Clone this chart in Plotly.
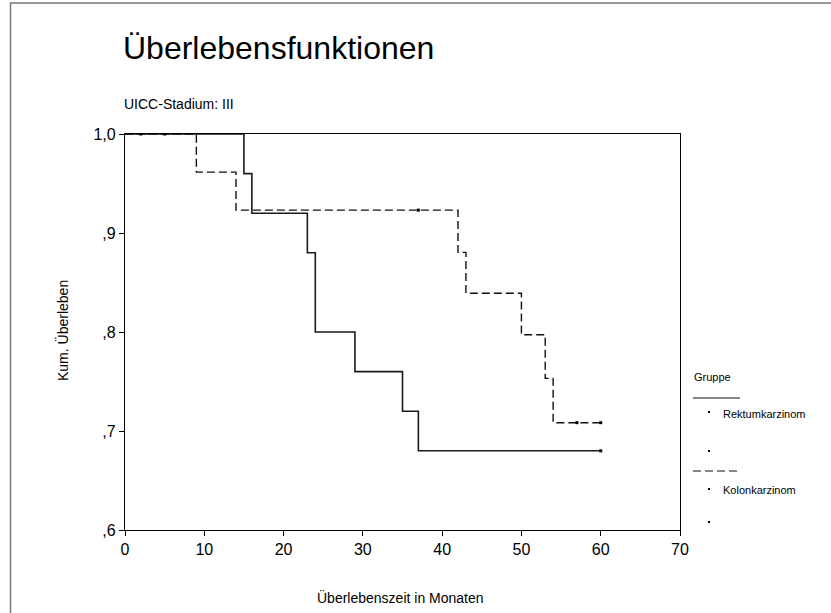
import plotly.graph_objects as go

# Kaplan-Meier data
rektum_t = [0, 15, 16, 23, 24, 29, 35, 37, 60]
rektum_s = [1.0, 0.96, 0.92, 0.88, 0.80, 0.76, 0.72, 0.68, 0.68]
rektum_cens_t = [60]
rektum_cens_s = [0.68]

kolon_t = [0, 9, 14, 42, 43, 50, 53, 54, 60]
kolon_s = [1.0, 0.9615, 0.9231, 0.8804, 0.8392, 0.7972, 0.7532, 0.7084, 0.7084]
kolon_cens_t = [2, 5, 37, 57, 60]
kolon_cens_s = [1.0, 1.0, 0.9231, 0.7084, 0.7084]

x_ticks = [0, 10, 20, 30, 40, 50, 60, 70]
y_ticks = [0.6, 0.7, 0.8, 0.9, 1.0]
y_ticktext = [",6", ",7", ",8", ",9", "1,0"]

FONT = "Liberation Sans, Arial, sans-serif"
W, H = 831, 613
L, R, T, B = 125, 151, 134, 83
PW, PH = W - L - R, H - T - B


def px(x):
    return (x - L) / PW


def py(y):
    return (H - B - y) / PH


fig = go.Figure()

fig.add_trace(go.Scatter(x=rektum_t, y=rektum_s, mode="lines", line_shape="hv",
                         line=dict(color="#1a1a1a", width=1.6), showlegend=False))
fig.add_trace(go.Scatter(x=kolon_t, y=kolon_s, mode="lines", line_shape="hv",
                         line=dict(color="#111", width=1.4, dash="8px,4px"), showlegend=False))
# censored marks
fig.add_trace(go.Scatter(x=rektum_cens_t, y=rektum_cens_s, mode="markers",
                         marker=dict(symbol="square", size=3, color="black"), showlegend=False))
fig.add_trace(go.Scatter(x=kolon_cens_t, y=kolon_cens_s, mode="markers",
                         marker=dict(symbol="square", size=3, color="black"), showlegend=False))

shapes = []
# outer frame (runs off the right and bottom of the picture)
shapes.append(dict(type="rect", xref="paper", yref="paper", x0=px(10.5), y0=-1, x1=2, y1=py(3),
                   line=dict(color="#777", width=1.5)))
# legend line samples
shapes.append(dict(type="line", xref="paper", yref="paper", x0=px(693), x1=px(740), y0=py(398), y1=py(398),
                   line=dict(color="#111", width=1.2)))
shapes.append(dict(type="line", xref="paper", yref="paper", x0=px(693), x1=px(740), y0=py(471), y1=py(471),
                   line=dict(color="#111", width=1.2, dash="8px,4px")))
# legend dots
for yy in [412, 451, 489, 522]:
    shapes.append(dict(type="rect", xref="paper", yref="paper", x0=px(708), x1=px(710),
                       y0=py(yy + 1), y1=py(yy - 1), fillcolor="black", line=dict(width=0)))

annotations = [
    dict(text="Überlebensfunktionen", x=px(121), y=py(48), xanchor="left", yanchor="middle",
         font=dict(size=32, color="black")),
    dict(text="UICC-Stadium: III", x=px(122), y=py(104), xanchor="left", yanchor="middle",
         font=dict(size=14, color="black")),
    dict(text="Kum. Überleben", x=px(62), y=py(331), textangle=-90, xanchor="center", yanchor="middle",
         font=dict(size=14, color="black")),
    dict(text="Überlebenszeit in Monaten", x=px(400), y=py(597), xanchor="center", yanchor="middle",
         font=dict(size=14, color="black")),
    dict(text="Gruppe", x=px(692), y=py(377), xanchor="left", yanchor="middle",
         font=dict(size=11, color="black")),
    dict(text="Rektumkarzinom", x=px(721), y=py(414), xanchor="left", yanchor="middle",
         font=dict(size=11, color="black")),
    dict(text="Kolonkarzinom", x=px(721), y=py(490), xanchor="left", yanchor="middle",
         font=dict(size=11, color="black")),
]
for a in annotations:
    a.update(xref="paper", yref="paper", showarrow=False)

fig.update_layout(
    width=W, height=H, autosize=False,
    margin=dict(l=L, r=R, t=T, b=B),
    paper_bgcolor="white", plot_bgcolor="white",
    font=dict(family=FONT, color="black"),
    shapes=shapes, annotations=annotations,
    xaxis=dict(range=[0, 70], tickvals=x_ticks, ticks="outside", ticklen=5, tickcolor="black",
               showline=True, linecolor="black", linewidth=1.2, mirror=True, showgrid=False,
               zeroline=False, tickfont=dict(size=16)),
    yaxis=dict(range=[0.6, 1.0], tickvals=y_ticks, ticktext=y_ticktext, ticks="outside", ticklen=5,
               tickcolor="black", showline=True, linecolor="black", linewidth=1.2, mirror=True,
               showgrid=False, zeroline=False, tickfont=dict(size=16)),
)

# drop the default page margin so the figure sits at the top-left corner
fig.write_html("out.html", config={"displayModeBar": False},
               post_script="document.body.style.margin='0';")
